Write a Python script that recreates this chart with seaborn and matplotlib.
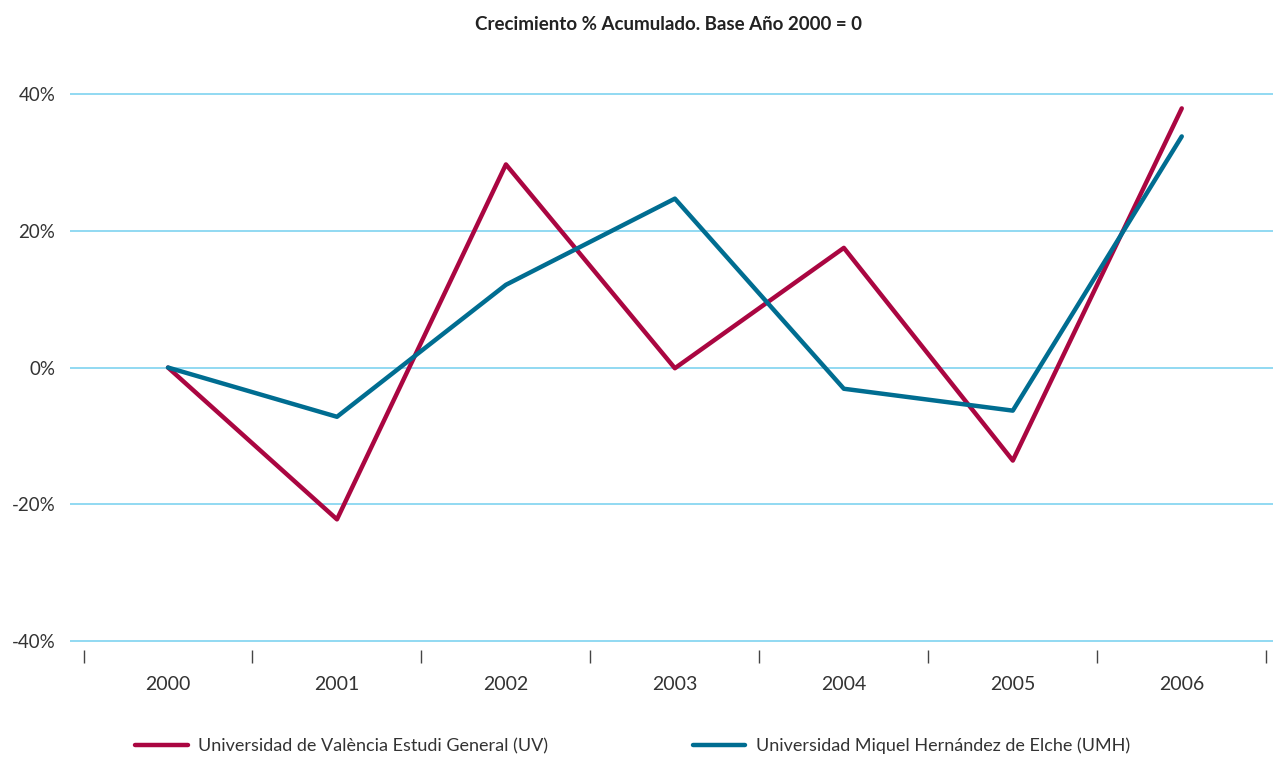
import seaborn as sns, matplotlib.pyplot as plt, numpy as np
import pandas as pd
from matplotlib.lines import Line2D

years = [2000, 2001, 2002, 2003, 2004, 2005, 2006]
uv = [0.0, -22.2, 29.7, -0.1, 17.5, -13.6, 37.9]
umh = [0.0, -7.2, 12.1, 24.7, -3.1, -6.3, 33.8]
series_names = ["Universidad de València Estudi General (UV)",
                "Universidad Miquel Hernández de Elche (UMH)"]
colors = ["#AA0641", "#006D91"]
y_ticks = [-40, -20, 0, 20, 40]

df = pd.DataFrame({
    "year": years * 2,
    "value": uv + umh,
    "serie": [series_names[0]] * len(years) + [series_names[1]] * len(years),
})

sns.set_style("white")
plt.rcParams['font.family'] = ['Lato', 'DejaVu Sans']

fig = plt.figure(figsize=(12.73, 7.58), dpi=100)
ax = fig.add_axes([0.055, 0.1425, 0.945, 0.738])

sns.lineplot(data=df, x="year", y="value", hue="serie", palette=colors,
             linewidth=3.2, ax=ax, legend=False)

ax.set_xlim(1999.42, 2006.54)
ax.set_ylim(-41.3, 40.5)
for y in y_ticks:
    ax.axhline(y, color="#7FD3F0", linewidth=1.2, zorder=0)

ax.set_yticks(y_ticks)
ax.set_yticklabels([f"{v}%" for v in y_ticks], fontsize=13.5, color="#333333")
ax.tick_params(axis="y", length=0, pad=10.5)

ax.set_xticks(years)
ax.set_xticklabels([str(y) for y in years], fontsize=14, color="#333333")
ax.set_xticks([y - 0.5 for y in years] + [2006.5], minor=True)
ax.tick_params(axis="x", which="major", length=0, pad=19)
ax.tick_params(axis="x", which="minor", bottom=True, length=9, width=1,
               color="#444444", direction="out")

for s in ax.spines.values():
    s.set_visible(False)
ax.set_xlabel("")
ax.set_ylabel("")

fig.text(0.525, 0.968, "Crecimiento % Acumulado. Base Año 2000 = 0",
         ha="center", va="center", fontsize=13.5, fontweight="bold", color="#222222")

handles = [Line2D([0], [0], color=c, linewidth=3.2) for c in colors]
fig.legend(handles, series_names, loc="center", bbox_to_anchor=(0.497, 0.016),
           ncol=2, frameon=False, fontsize=13, handlelength=2.9,
           columnspacing=8.0, handletextpad=0.6, labelcolor="#333333")

plt.savefig("out.png", dpi=100)
